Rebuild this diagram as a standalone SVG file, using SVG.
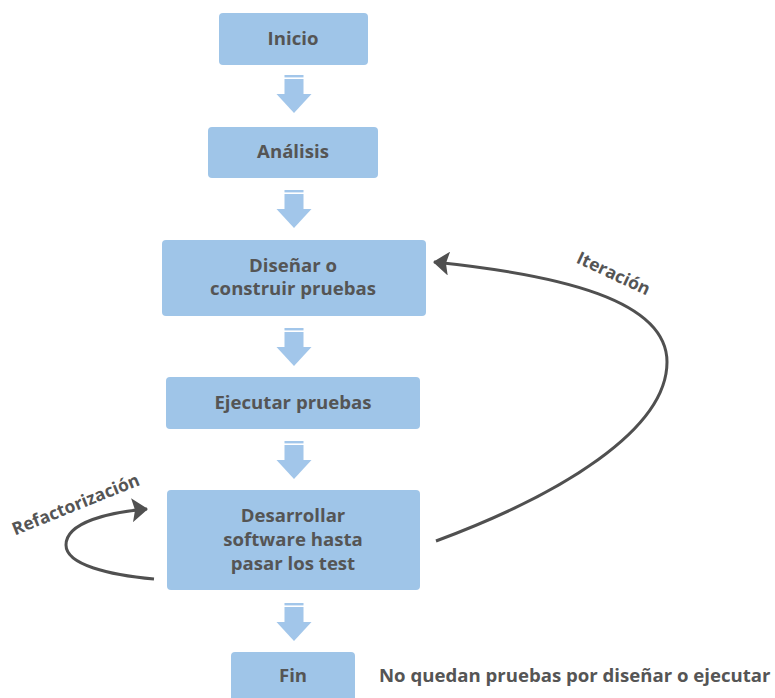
<svg xmlns="http://www.w3.org/2000/svg" width="775" height="698" viewBox="0 0 775 698">
<style>
.box{fill:#9fc5e8;}
.t{font-family:"Open Sans","Noto Sans","Liberation Sans",sans-serif;font-weight:700;font-size:18.6px;fill:#555555;text-anchor:middle;}
.lbl{font-family:"Open Sans","Noto Sans","Liberation Sans",sans-serif;font-weight:700;font-size:17.5px;fill:#555555;text-anchor:middle;}
.curve{fill:none;stroke:#505050;stroke-width:3;}
.blk{fill:#a2c6ea;}
</style>
<defs>
<g id="barrow">
<rect class="blk" x="-9.5" y="0" width="19" height="2.4"/>
<rect class="blk" x="-9.5" y="4" width="19" height="16"/>
<polygon class="blk" points="-17.5,19 17.5,19 0,38"/>
</g>
<marker id="ah" markerWidth="16" markerHeight="24" viewBox="0 0 16 24" refX="15" refY="12" orient="auto" markerUnits="userSpaceOnUse">
<path d="M0,0 L16,12 L0,24 L3,12 Z" fill="#505050"/>
</marker>
</defs>

<g id="connectors">
<use href="#barrow" x="294" y="75"/>
<use href="#barrow" x="294" y="190"/>
<use href="#barrow" x="294" y="328"/>
<use href="#barrow" x="294" y="441"/>
<use href="#barrow" x="294" y="603"/>
<path class="curve" d="M436,541 C560,495 667,430 667,362 C667,300 560,275 434,262" marker-end="url(#ah)"/>
<path class="curve" d="M154,579 C110,575 66,565 66,545 C66,522 110,512 147,509" marker-end="url(#ah)"/>
<text class="lbl" transform="translate(611,279) rotate(25)">Iteración</text>
<text class="lbl" transform="translate(78,510) rotate(-22)">Refactorización</text>
</g>

<g id="n-inicio">
<rect class="box" x="219" y="13" width="149" height="52" rx="4"/>
<text class="t" x="293" y="44.5">Inicio</text>
</g>
<g id="n-analisis">
<rect class="box" x="208" y="127" width="170" height="51" rx="4"/>
<text class="t" x="293" y="157.5">Análisis</text>
</g>
<g id="n-disenar">
<rect class="box" x="162" y="240" width="264" height="76" rx="4"/>
<text class="t" x="293" y="271.5">Diseñar o</text>
<text class="t" x="293" y="295">construir pruebas</text>
</g>
<g id="n-ejecutar">
<rect class="box" x="166" y="377" width="254" height="52" rx="4"/>
<text class="t" x="293" y="408.5">Ejecutar pruebas</text>
</g>
<g id="n-desarrollar">
<rect class="box" x="167" y="490" width="253" height="100" rx="4"/>
<text class="t" x="293" y="521.5">Desarrollar</text>
<text class="t" x="293" y="545.5">software hasta</text>
<text class="t" x="293" y="569.5">pasar los test</text>
</g>
<g id="n-fin">
<rect class="box" x="231" y="652" width="124" height="50" rx="4"/>
<text class="t" x="293" y="681.5">Fin</text>
<text class="t" x="379" y="681.5" style="text-anchor:start">No quedan pruebas por diseñar o ejecutar</text>
</g>
</svg>
